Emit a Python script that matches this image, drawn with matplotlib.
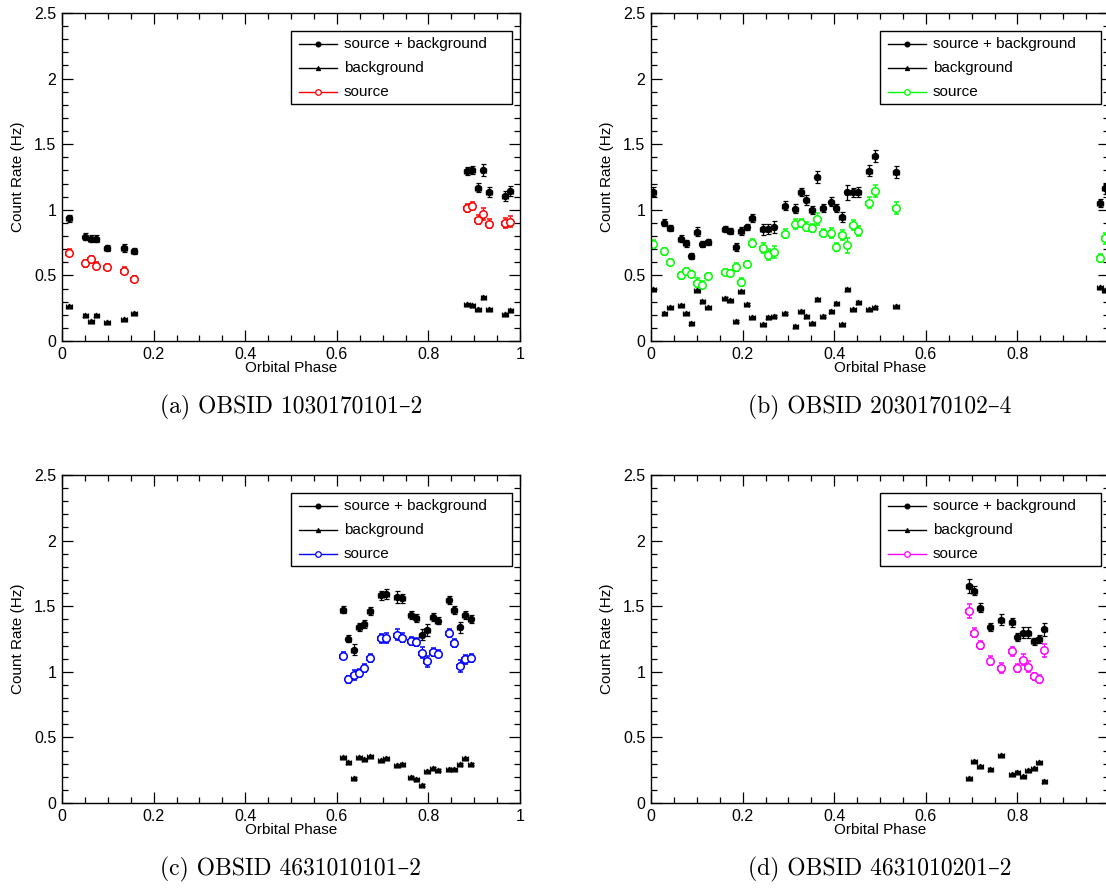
import matplotlib
matplotlib.use("Agg")
import matplotlib.pyplot as plt
from matplotlib.ticker import MultipleLocator, FuncFormatter
from matplotlib.lines import Line2D
from matplotlib.patches import Rectangle

plt.rcParams['font.family'] = ['Liberation Sans', 'DejaVu Sans']

# ---------------------------------------------------------------- data
# half width of each orbital-phase bin
bin_half_width = 0.006

# (a) OBSID 1030170101-2
phase_a = [0.015, 0.051, 0.063, 0.075, 0.098, 0.135, 0.157,
           0.884, 0.896, 0.908, 0.920, 0.932, 0.967, 0.979]
total_a = [0.935, 0.795, 0.780, 0.780, 0.711, 0.709, 0.688,
           1.298, 1.303, 1.169, 1.301, 1.136, 1.108, 1.146]
source_a = [0.673, 0.592, 0.625, 0.574, 0.562, 0.536, 0.473,
            1.011, 1.031, 0.925, 0.965, 0.894, 0.902, 0.910]
bkg_a = [0.267, 0.200, 0.155, 0.200, 0.147, 0.168, 0.211,
         0.282, 0.272, 0.241, 0.335, 0.241, 0.208, 0.234]
err_a = [0.028, 0.025, 0.025, 0.028, 0.022, 0.028, 0.022,
         0.030, 0.030, 0.034, 0.046, 0.036, 0.039, 0.039]
bkg_err_a = [0.008, 0.007, 0.007, 0.007, 0.007, 0.007, 0.008,
             0.008, 0.008, 0.008, 0.009, 0.008, 0.008, 0.008]

# (b) OBSID 2030170102-4
phase_b = [0.005, 0.029, 0.041, 0.065, 0.076, 0.088, 0.100, 0.112, 0.124,
           0.161, 0.173, 0.185, 0.197, 0.209, 0.221, 0.245, 0.256, 0.268,
           0.292, 0.315, 0.327, 0.339, 0.351, 0.363, 0.375, 0.394, 0.405,
           0.417, 0.429, 0.441, 0.453, 0.476, 0.488, 0.535, 0.980, 0.991]
total_b = [1.138, 0.902, 0.861, 0.780, 0.744, 0.648, 0.833, 0.739, 0.757,
           0.856, 0.841, 0.719, 0.841, 0.866, 0.935, 0.851, 0.854, 0.869,
           1.031, 1.008, 1.133, 1.075, 1.001, 1.252, 1.016, 1.062, 1.016,
           0.945, 1.133, 1.133, 1.136, 1.298, 1.413, 1.291, 1.049, 1.164]
source_b = [0.739, 0.683, 0.602, 0.500, 0.531, 0.511, 0.445, 0.429, 0.498,
            0.528, 0.518, 0.564, 0.452, 0.587, 0.749, 0.709, 0.658, 0.678,
            0.818, 0.892, 0.897, 0.871, 0.859, 0.932, 0.823, 0.823, 0.719,
            0.808, 0.729, 0.884, 0.838, 1.054, 1.143, 1.016, 0.635, 0.783]
bkg_b = [0.396, 0.213, 0.257, 0.277, 0.213, 0.140, 0.389, 0.305, 0.257,
         0.328, 0.312, 0.152, 0.381, 0.282, 0.181, 0.127, 0.183, 0.191,
         0.213, 0.114, 0.226, 0.193, 0.137, 0.318, 0.191, 0.229, 0.290,
         0.130, 0.396, 0.241, 0.295, 0.241, 0.259, 0.269, 0.412, 0.389]
err_b = [0.033, 0.028, 0.025, 0.025, 0.025, 0.025, 0.033, 0.025, 0.022,
         0.022, 0.022, 0.030, 0.030, 0.022, 0.030, 0.040, 0.040, 0.045,
         0.035, 0.035, 0.030, 0.035, 0.030, 0.045, 0.030, 0.035, 0.030,
         0.040, 0.055, 0.035, 0.035, 0.040, 0.045, 0.045, 0.030, 0.040]
bkg_err_b = [0.008, 0.007, 0.007, 0.007, 0.007, 0.007, 0.008, 0.008, 0.007,
             0.008, 0.008, 0.007, 0.008, 0.008, 0.007, 0.007, 0.007, 0.007,
             0.007, 0.007, 0.008, 0.007, 0.007, 0.008, 0.007, 0.008, 0.008,
             0.007, 0.008, 0.008, 0.008, 0.008, 0.008, 0.008, 0.009, 0.009]

# (c) OBSID 4631010101-2
phase_c = [0.613, 0.625, 0.637, 0.648, 0.660, 0.672, 0.696, 0.707, 0.731,
           0.743, 0.761, 0.774, 0.785, 0.797, 0.809, 0.820, 0.844, 0.856,
           0.868, 0.880, 0.892]
total_c = [1.473, 1.252, 1.168, 1.344, 1.364, 1.463, 1.583, 1.593, 1.572,
           1.560, 1.433, 1.413, 1.283, 1.319, 1.418, 1.390, 1.547, 1.473,
           1.339, 1.435, 1.405]
source_c = [1.123, 0.943, 0.976, 0.993, 1.029, 1.105, 1.255, 1.255, 1.283,
            1.260, 1.237, 1.227, 1.146, 1.080, 1.153, 1.138, 1.296, 1.217,
            1.044, 1.095, 1.107]
bkg_c = [0.353, 0.315, 0.191, 0.353, 0.338, 0.358, 0.328, 0.341, 0.292,
         0.300, 0.196, 0.185, 0.137, 0.244, 0.267, 0.254, 0.257, 0.262,
         0.295, 0.341, 0.300]
err_c = [0.028, 0.025, 0.041, 0.030, 0.028, 0.032, 0.032, 0.038, 0.044,
         0.035, 0.030, 0.030, 0.040, 0.043, 0.030, 0.028, 0.030, 0.030,
         0.043, 0.032, 0.030]
bkg_err_c = [0.008, 0.008, 0.007, 0.008, 0.008, 0.008, 0.008, 0.008, 0.008,
             0.008, 0.007, 0.007, 0.007, 0.008, 0.008, 0.008, 0.008, 0.008,
             0.008, 0.008, 0.008]

# (d) OBSID 4631010201-2
phase_d = [0.694, 0.705, 0.718, 0.741, 0.764, 0.788, 0.800, 0.812, 0.823,
           0.836, 0.847, 0.859]
total_d = [1.656, 1.618, 1.489, 1.341, 1.397, 1.377, 1.268, 1.298, 1.298,
           1.232, 1.252, 1.324]
source_d = [1.463, 1.298, 1.204, 1.085, 1.029, 1.156, 1.031, 1.092, 1.039,
            0.966, 0.945, 1.164]
bkg_d = [0.188, 0.320, 0.285, 0.257, 0.368, 0.221, 0.239, 0.206, 0.252,
         0.264, 0.310, 0.165]
err_d = [0.053, 0.036, 0.032, 0.032, 0.040, 0.032, 0.030, 0.043, 0.044,
         0.025, 0.030, 0.048]
bkg_err_d = [0.008, 0.008, 0.008, 0.008, 0.008, 0.008, 0.008, 0.008, 0.008,
             0.008, 0.008, 0.008]

captions = ["(a) OBSID 1030170101\u20132", "(b) OBSID 2030170102\u20134",
            "(c) OBSID 4631010101\u20132", "(d) OBSID 4631010201\u20132"]
source_colors = ["#ff0000", "#00ff00", "#0000ff", "#ff00ff"]
legend_labels = ["source + background", "background", "source"]

panels = [
    (phase_a, total_a, source_a, bkg_a, err_a, bkg_err_a),
    (phase_b, total_b, source_b, bkg_b, err_b, bkg_err_b),
    (phase_c, total_c, source_c, bkg_c, err_c, bkg_err_c),
    (phase_d, total_d, source_d, bkg_d, err_d, bkg_err_d),
]

# ---------------------------------------------------------------- layout
W, H = 1106, 888
fig = plt.figure(figsize=(W / 100, H / 100), dpi=100)
fig.patch.set_facecolor("white")

ax_w, ax_h = 458, 328
origins = [(62, 13), (651, 13), (62, 475), (651, 475)]   # left, top in px

LABEL_FS = 11.0


def style_axes(ax, right_column):
    ax.set_xlim(0, 1)
    ax.set_ylim(0, 2.5)
    ax.xaxis.set_major_locator(MultipleLocator(0.2))
    ax.xaxis.set_minor_locator(MultipleLocator(0.05))
    ax.yaxis.set_major_locator(MultipleLocator(0.5))
    ax.yaxis.set_minor_locator(MultipleLocator(0.1))

    def xfmt(v, p):
        # the right-hand panels run past the page edge, so their last
        # phase label is not printed
        if right_column and v > 0.99:
            return ""
        return f"{v:g}"

    ax.xaxis.set_major_formatter(FuncFormatter(xfmt))
    ax.yaxis.set_major_formatter(FuncFormatter(lambda v, p: f"{v:g}"))
    ax.tick_params(which="both", direction="in", top=True, right=True,
                   width=0.9, labelsize=11.5, pad=4)
    ax.tick_params(which="major", length=8)
    ax.tick_params(which="minor", length=4)
    for s in ax.spines.values():
        s.set_linewidth(1.0)
    ax.set_xlabel("Orbital Phase", fontsize=LABEL_FS)
    ax.set_ylabel("Count Rate (Hz)", fontsize=LABEL_FS)
    ax.xaxis.set_label_coords(0.5, -0.062)
    ax.xaxis.label.set_va("top")
    ax.yaxis.set_label_coords(-0.08, 0.5)


def draw_legend(ax, color):
    tr = ax.transAxes
    box = Rectangle((0.5, 0.7226), 0.4825, 0.2224, transform=tr,
                    facecolor="white", edgecolor="black", linewidth=1.0,
                    zorder=10, clip_on=False)
    ax.add_patch(box)
    rows = [0.9055, 0.8314, 0.7582]
    styles = [
        dict(color="black", marker="o", ms=3.5, mfc="black", mec="black"),
        dict(color="black", marker="^", ms=3.0, mfc="black", mec="black"),
        dict(color=color, marker="o", ms=4.0, mfc="white", mec=color, mew=0.9),
    ]
    for y, st, lab in zip(rows, styles, legend_labels):
        ax.add_line(Line2D([0.5175, 0.6004], [y, y], transform=tr,
                           linewidth=1.0, zorder=11, clip_on=False,
                           color=st["color"]))
        ax.add_line(Line2D([0.559], [y], transform=tr, linestyle="none",
                           marker=st["marker"], markersize=st["ms"],
                           markerfacecolor=st["mfc"],
                           markeredgecolor=st["mec"],
                           markeredgewidth=st.get("mew", 0.8),
                           zorder=12, clip_on=False))
        ax.text(0.6157, y, lab, transform=tr, fontsize=LABEL_FS,
                va="center", ha="left", zorder=12)


for i, ((left, top), data, color, cap) in enumerate(
        zip(origins, panels, source_colors, captions)):
    phase, total, source, bkg, err, bkg_err = data
    ax = fig.add_axes([left / W, 1 - (top + ax_h) / H, ax_w / W, ax_h / H])
    style_axes(ax, right_column=(i % 2 == 1))

    ebar = dict(linestyle="none", elinewidth=0.9, capsize=1.8, capthick=0.9)
    ax.errorbar(phase, bkg, yerr=bkg_err, xerr=bin_half_width, fmt="^",
                color="black", ms=3.4, **ebar)
    ax.errorbar(phase, total, yerr=err, xerr=bin_half_width, fmt="o",
                color="black", ms=4.3, **ebar)
    ax.errorbar(phase, source, yerr=err, xerr=bin_half_width, fmt="o",
                color=color, mfc="white", mec=color, mew=1.1, ms=5.4, **ebar)

    draw_legend(ax, color)

    fig.text((left + ax_w / 2) / W, 1 - (top + ax_h + 72) / H, cap,
             ha="center", va="baseline", fontsize=17,
             family=["cmr10", "DejaVu Serif"])

fig.savefig("out.png", dpi=100)
